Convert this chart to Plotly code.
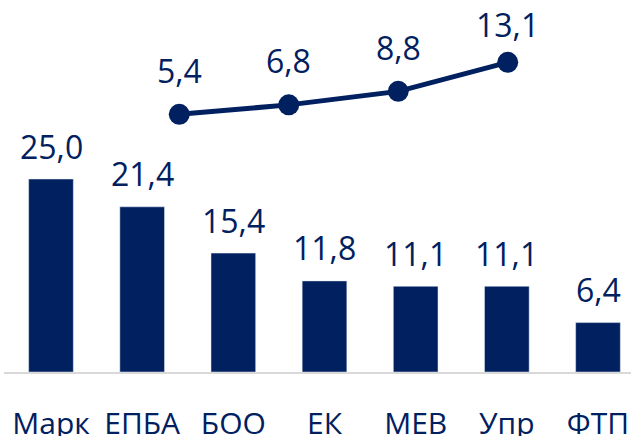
import plotly.graph_objects as go

categories = ["Марк", "ЕПБА", "БОО", "ЕК", "МЕВ", "Упр", "ФТП"]
bar_values = [25.0, 21.4, 15.4, 11.8, 11.1, 11.1, 6.4]
line_positions = [0, 1, 2, 3]
line_values = [5.4, 6.8, 8.8, 13.1]

NAVY = "#002060"
FONT = "Open Sans"
FS = 32


def fmt(v):
    return f"{v:.1f}".replace(".", ",")


fig = go.Figure()
fig.add_trace(go.Bar(
    x=categories, y=bar_values, marker_color=NAVY, width=0.49,
    xaxis="x", yaxis="y", hoverinfo="skip",
))
fig.add_trace(go.Scatter(
    x=line_positions, y=line_values, mode="lines+markers",
    line=dict(color=NAVY, width=5), marker=dict(color=NAVY, size=21),
    xaxis="x2", yaxis="y2", hoverinfo="skip",
))

annotations = []
for c, v in zip(categories, bar_values):
    annotations.append(dict(
        x=c, y=v, xref="x", yref="y", text=fmt(v), showarrow=False,
        yanchor="middle", yshift=33, font=dict(family=FONT, size=FS, color=NAVY),
    ))
for i, (p, v) in enumerate(zip(line_positions, line_values)):
    annotations.append(dict(
        x=p, y=v, xref="x2", yref="y2", text=fmt(v), showarrow=False,
        yanchor="middle", yshift=44 if i < len(line_values) - 1 else 38,
        font=dict(family=FONT, size=FS, color=NAVY),
    ))

fig.update_layout(
    width=631, height=436,
    margin=dict(l=4, r=0, t=0, b=64),
    paper_bgcolor="white", plot_bgcolor="white",
    showlegend=False,
    font=dict(family=FONT, size=FS, color=NAVY),
    xaxis=dict(
        type="category", range=[-0.5155, 6.362], showgrid=False, zeroline=False,
        showline=True, linecolor="#d9d9d9", linewidth=2, ticks="",
        ticklabelstandoff=24, automargin=False,
        tickfont=dict(family=FONT, size=30, color=NAVY), fixedrange=True,
    ),
    yaxis=dict(range=[0, 48.19], visible=False, fixedrange=True, automargin=False),
    xaxis2=dict(overlaying="x", range=[-1.601, 4.126], visible=False, fixedrange=True),
    yaxis2=dict(overlaying="y", range=[-32.76, 22.33], visible=False, fixedrange=True),
    annotations=annotations,
)

fig.write_html("out.html", config={"displayModeBar": False},
               post_script="document.body.style.margin='0px';")
